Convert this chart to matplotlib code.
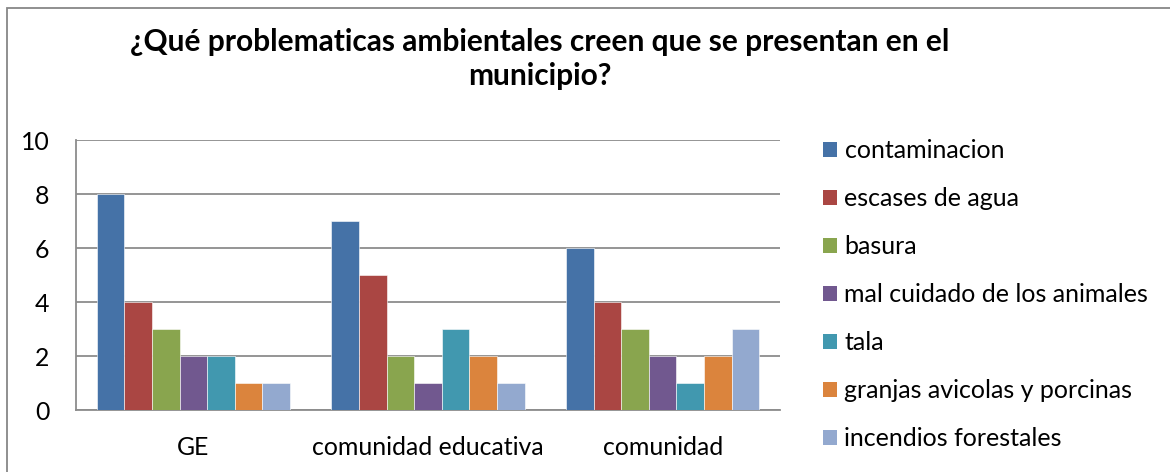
import matplotlib
matplotlib.use("Agg")
import matplotlib.pyplot as plt
import numpy as np
from matplotlib.patches import Rectangle

categories = ["GE", "comunidad educativa", "comunidad"]
series_names = ["contaminacion", "escases de agua", "basura",
                "mal cuidado de los animales", "tala",
                "granjas avicolas y porcinas", "incendios forestales"]
values = {
    "contaminacion": [8, 7, 6],
    "escases de agua": [4, 5, 4],
    "basura": [3, 2, 3],
    "mal cuidado de los animales": [2, 1, 2],
    "tala": [2, 3, 1],
    "granjas avicolas y porcinas": [1, 2, 2],
    "incendios forestales": [1, 1, 3],
}
colors = ["#4572A7", "#AA4643", "#89A54E", "#71588F", "#4198AF", "#DB843D", "#93A9CF"]
yticks = [0, 2, 4, 6, 8, 10]
title = "¿Qué problematicas ambientales creen que se presentan en el\nmunicipio?"

plt.rcParams['font.family'] = ['Lato', 'DejaVu Sans']
W, H = 1170, 472
fig = plt.figure(figsize=(W/100, H/100), dpi=100)
fig.patch.set_facecolor("white")

# outer chart border
fig.add_artist(Rectangle((7/W, -0.1), 1.2, (H-8)/H + 0.1, transform=fig.transFigure,
                         fill=False, edgecolor="#878787", lw=1.3))

left, right, top, bottom = 76, 780, 140, 410
ax = fig.add_axes([left/W, 1-bottom/H, (right-left)/W, (bottom-top)/H])
ax.set_xlim(0, 3)
ax.set_ylim(0, 10)
n = len(series_names)
bw = 0.825 / n
x = np.arange(len(categories)) + 0.5
for i, name in enumerate(series_names):
    ax.bar(x - 0.825/2 + bw*(i+0.5), values[name], width=bw, color=colors[i],
           edgecolor="white", linewidth=0.4, zorder=3)
ax.set_yticks(yticks)
ax.yaxis.grid(True, color="#8c8c8c", lw=1.3, zorder=0)
ax.set_axisbelow(True)
for s in ["top", "right"]:
    ax.spines[s].set_visible(False)
for s in ["left", "bottom"]:
    ax.spines[s].set_color("#8c8c8c")
    ax.spines[s].set_linewidth(1.3)
ax.set_xticks(x)
ax.set_xticklabels(categories, fontsize=17.9)
ax.tick_params(axis="x", length=0, pad=19)
ax.tick_params(axis="y", length=0, labelsize=17.9, pad=19)

handles = [Rectangle((0, 0), 1, 1, facecolor=c, edgecolor="none") for c in colors]
leg = fig.legend(handles, series_names, loc="upper left", bbox_to_anchor=(813/W, 1-129/H),
                 frameon=False, fontsize=18, handlelength=0.56, handleheight=0.56,
                 handletextpad=0.3, labelspacing=1.0, borderaxespad=0)

fig.text(540/W, 1-59/H, title, ha="center", va="center", fontsize=21.5,
         fontweight="bold", linespacing=1.3)

fig.savefig("out.png", dpi=100, facecolor="white")
